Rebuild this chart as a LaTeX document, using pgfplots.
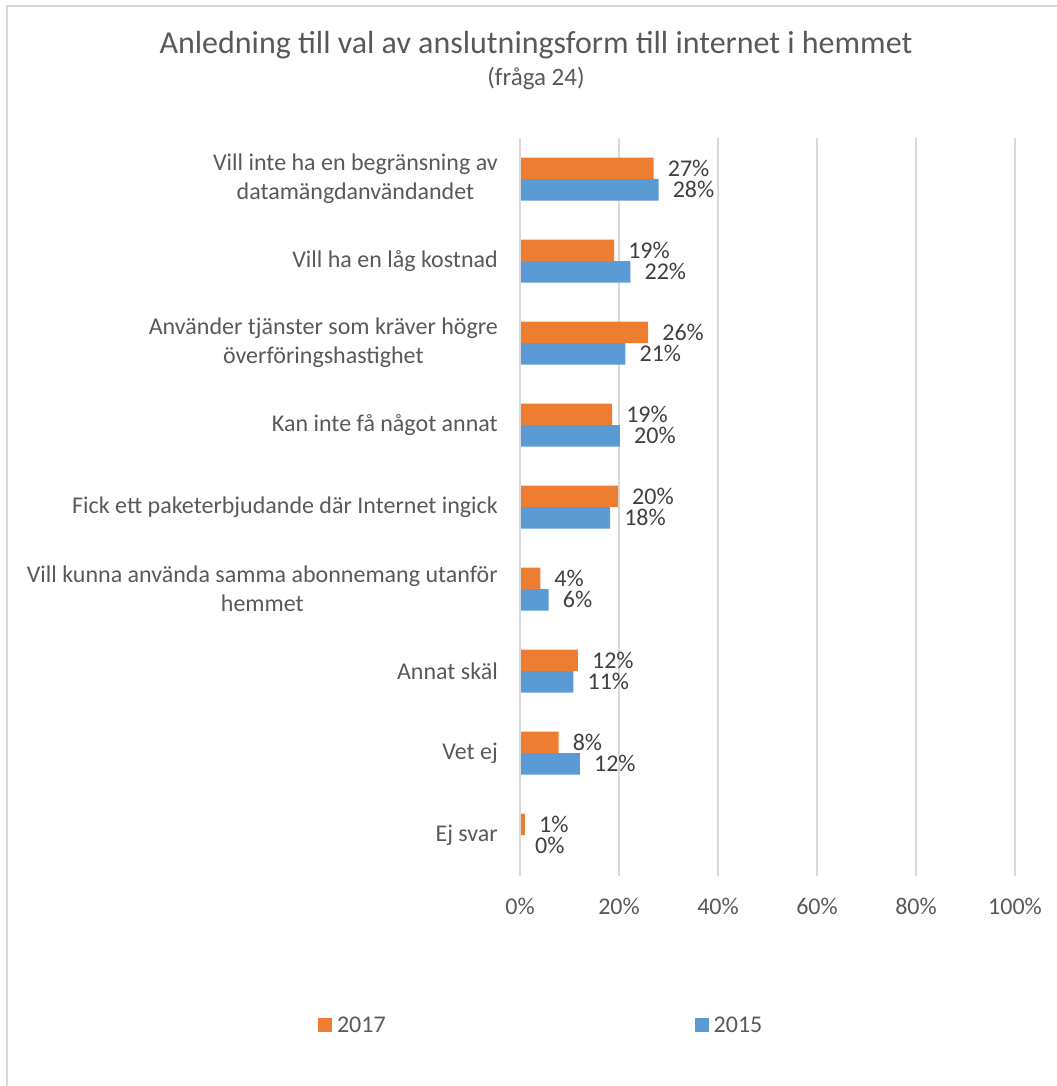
\documentclass[border=0pt]{standalone}
\usepackage{pgfplots}
\pgfplotsset{compat=1.18}
\usepackage{fontspec}
\setmainfont{Carlito}
\definecolor{cOrange}{HTML}{ED7D31}
\definecolor{cBlue}{HTML}{5B9BD5}
\definecolor{cText}{HTML}{595959}
\definecolor{cLabel}{HTML}{404040}
\definecolor{cGrid}{HTML}{D9D9D9}
\begin{document}
\begin{tikzpicture}
\useasboundingbox (0,0) rectangle (1057bp,-1086bp);
\draw[cGrid, line width=1.5bp] (7bp,-1086bp) -- (7bp,-6bp) -- (1057bp,-6bp);
\node[text=cText, font=\fontsize{32bp}{38bp}\selectfont] at (536bp,-45bp) {Anledning till val av anslutningsform till internet i hemmet};
\node[text=cText, font=\fontsize{25bp}{30bp}\selectfont] at (536bp,-79bp) {(fråga 24)};
\begin{axis}[
  at={(520bp,-876bp)}, anchor=south west,
  scale only axis, width=495bp, height=738bp,
  xbar=0pt, bar width=21.5bp,
  xmin=0, xmax=100, ymin=0.5, ymax=9.5,
  y dir=reverse,
  axis line style={draw=none},
  xtick={0,20,40,60,80,100},
  xticklabels={0\%,20\%,40\%,60\%,80\%,100\%},
  ytick={1,...,9},
  yticklabels={{Vill inte ha en begränsning av\\datamängdanvändandet},
    {Vill ha en låg kostnad},
    {Använder tjänster som kräver högre\\överföringshastighet},
    {Kan inte få något annat},
    {Fick ett paketerbjudande där Internet ingick},
    {Vill kunna använda samma abonnemang utanför\\hemmet},
    {Annat skäl},
    {Vet ej},
    {Ej svar}},
  major tick length=0pt,
  xmajorgrids, grid style={cGrid, line width=1.3bp},
  xticklabel style={text=cText, font=\fontsize{24bp}{29bp}\selectfont, inner sep=0pt, anchor=north, yshift=-22bp},
  yticklabel style={text=cText, font=\fontsize{24bp}{29bp}\selectfont, align=center, inner sep=0pt, anchor=east, xshift=-22bp},
  /pgf/number format/assume math mode=true,
  point meta=x,
  nodes near coords={\pgfmathprintnumber[fixed,precision=0]{\pgfplotspointmeta}\%},
  every node near coord/.append style={text=cLabel, font=\fontsize{24bp}{29bp}\selectfont, anchor=west, inner sep=0pt, xshift=14bp},
  legend columns=2,
  legend style={at={(axis description cs:-0.408,-0.2019)}, anchor=west, draw=none, fill=none, inner sep=0pt, outer sep=0pt,
    font=\fontsize{24bp}{29bp}\selectfont, text=cText,
    /tikz/every even column/.append style={column sep=304bp},
    nodes={inner xsep=5bp, inner ysep=0pt}},
  legend image code/.code={\fill[#1] (0bp,-7bp) rectangle (14bp,7bp);},
  clip=false,
]
\addplot[fill=cOrange, draw=none, bar shift=10.75bp] coordinates {
 (27.0,1) (19.0,2) (25.9,3) (18.6,4) (19.8,5) (4.1,6) (11.7,7) (7.8,8) (1.0,9)};
\addlegendentry{2017}
\addplot[fill=cBlue, draw=none, bar shift=-10.75bp] coordinates {
 (28.0,1) (22.3,2) (21.3,3) (20.2,4) (18.2,5) (5.8,6) (10.8,7) (12.1,8) (0.2,9)};
\addlegendentry{2015}
\draw[cGrid, line width=1.3bp] (axis cs:0,0.5) -- (axis cs:0,9.5);
\end{axis}
\end{tikzpicture}
\end{document}
